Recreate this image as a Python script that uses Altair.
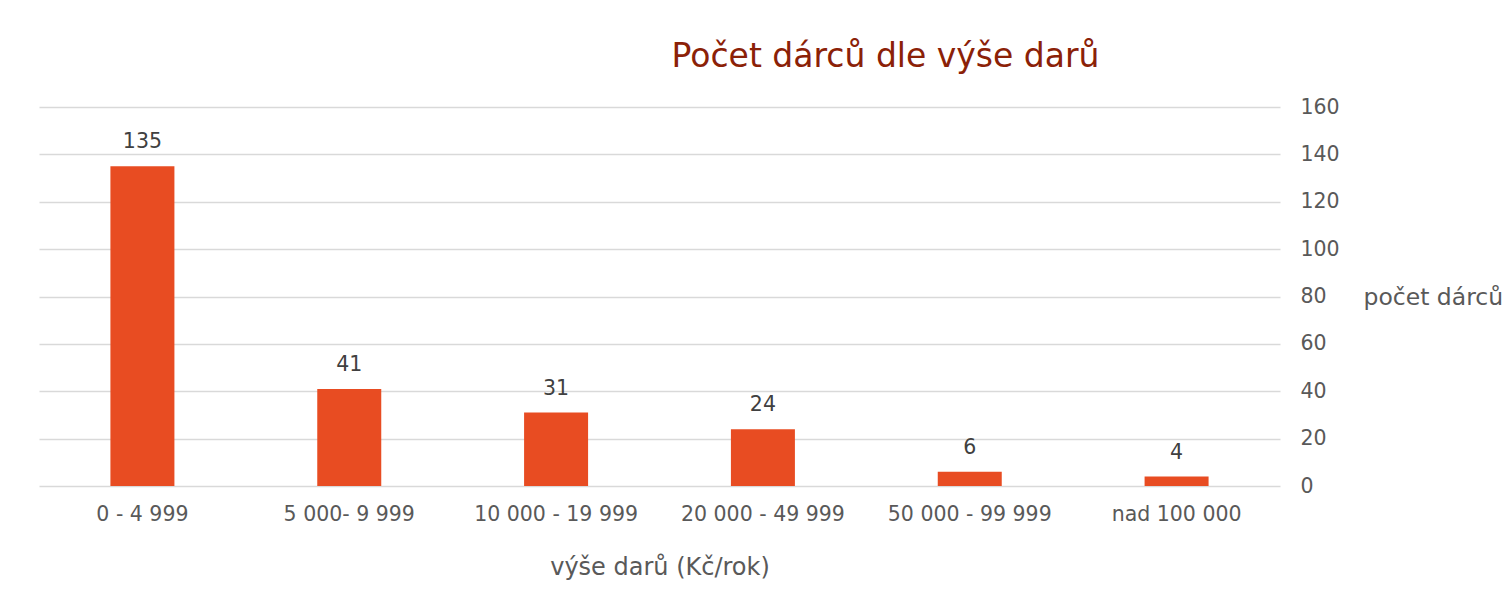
import altair as alt
import pandas as pd

categories = ["0 - 4 999", "5 000- 9 999", "10 000 - 19 999", "20 000 - 49 999", "50 000 - 99 999", "nad 100 000"]
counts = [135, 41, 31, 24, 6, 4]

df = pd.DataFrame({"kat": categories, "pocet": counts})

FONT = "DejaVu Sans"
AX = "#595959"

x = alt.X("kat:N", sort=categories,
          scale=alt.Scale(paddingInner=0.0, paddingOuter=0.0),
          axis=alt.Axis(title="výše darů (Kč/rok)", labelAngle=0, labelFontSize=20.5,
                        labelColor=AX, labelFont=FONT, labelPadding=18, ticks=False,
                        domain=False, grid=False, titleFontSize=24, titleFont=FONT,
                        titleColor=AX, titleFontWeight="normal", titlePadding=31))
y = alt.Y("pocet:Q", scale=alt.Scale(domain=[0, 160]),
          axis=alt.Axis(orient="right", values=[0, 20, 40, 60, 80, 100, 120, 140, 160],
                        title="počet dárců", titleAngle=0, titleAlign="left",
                        titleBaseline="middle", titleX=83, titleY=190,
                        titleFontSize=23.5, titleFont=FONT, titleColor=AX,
                        titleFontWeight="normal", labelFontSize=20.5, labelFont=FONT,
                        labelColor=AX, labelPadding=20, ticks=False, domain=False,
                        grid=True, gridColor="#d9d9d9", gridWidth=1.5))

bars = alt.Chart(df).mark_bar(size=64, color="#E84C22").encode(x=x, y=y)
labels = alt.Chart(df).mark_text(baseline="bottom", dy=-14, fontSize=20.5, font=FONT,
                                 color="#404040").encode(x=x, y=y, text="pocet:Q")

chart = alt.layer(bars, labels).properties(
    width=1241, height=379,
    title=alt.TitleParams("Počet dárců dle výše darů", fontSize=33, font=FONT,
                          fontWeight="normal", color="#8B2107", anchor="middle",
                          dx=226, offset=23),
    autosize=alt.AutoSizeParams(type="none"),
    padding={"left": 31, "top": 99, "right": 223, "bottom": 96},
    background="white",
).configure_view(stroke=None)

chart.save("out.html", embed_options={"renderer": "svg", "actions": False})
